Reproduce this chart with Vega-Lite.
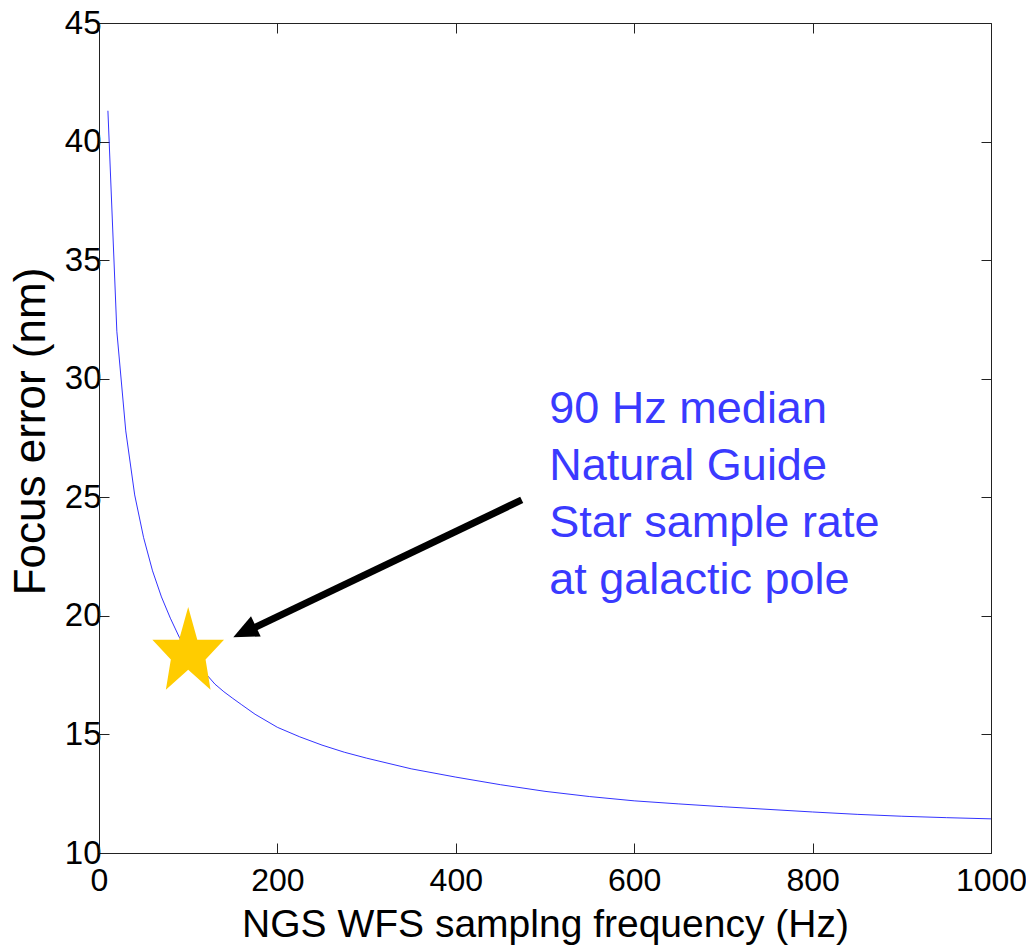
{
  "$schema": "https://vega.github.io/schema/vega-lite/v6.json",
  "width": 892,
  "height": 830,
  "autosize": {"type": "none"},
  "padding": {"left": 99, "top": 23, "right": 35, "bottom": 93},
  "background": "white",
  "config": {
    "view": {"stroke": null},
    "font": "Liberation Sans",
    "axis": {
      "grid": false,
      "domainColor": "#222222",
      "tickColor": "#222222",
      "labelColor": "#000000",
      "titleColor": "#000000",
      "labelFont": "Liberation Sans",
      "titleFont": "Liberation Sans",
      "titleFontWeight": "normal",
      "labelFontSize": 33,
      "titleFontSize": 42,
      "tickSize": -10,
      "labelFlush": false,
      "labelOverlap": false,
      "labelBound": false,
      "domainWidth": 1,
      "tickWidth": 1,
      "format": "d"
    }
  },
  "datasets": {
    "curve": [
      {"f": 10, "err": 41.3}, {"f": 20, "err": 32.0}, {"f": 30, "err": 27.8}, {"f": 40, "err": 25.1},
      {"f": 50, "err": 23.3}, {"f": 60, "err": 21.9}, {"f": 70, "err": 20.8}, {"f": 80, "err": 19.9},
      {"f": 90, "err": 19.1}, {"f": 100, "err": 18.5}, {"f": 110, "err": 18.0}, {"f": 120, "err": 17.55},
      {"f": 130, "err": 17.12}, {"f": 140, "err": 16.8}, {"f": 150, "err": 16.52}, {"f": 160, "err": 16.25},
      {"f": 175, "err": 15.85}, {"f": 200, "err": 15.3}, {"f": 225, "err": 14.9}, {"f": 250, "err": 14.55},
      {"f": 275, "err": 14.25}, {"f": 300, "err": 14.0}, {"f": 350, "err": 13.55}, {"f": 400, "err": 13.2},
      {"f": 450, "err": 12.88}, {"f": 500, "err": 12.6}, {"f": 550, "err": 12.38}, {"f": 600, "err": 12.2},
      {"f": 650, "err": 12.07}, {"f": 700, "err": 11.95}, {"f": 750, "err": 11.84}, {"f": 800, "err": 11.73},
      {"f": 850, "err": 11.63}, {"f": 900, "err": 11.55}, {"f": 950, "err": 11.49}, {"f": 1000, "err": 11.44}
    ],
    "star": [{"f": 100, "err": 18.63}],
    "arrow": [{"f": 473.9, "err": 24.89, "f2": 169.3, "err2": 19.41, "hf": 163.2, "herr": 19.33}],
    "note": [{"f": 504.8, "err": 28.15, "label": "90 Hz median\nNatural Guide\nStar sample rate\nat galactic pole"}]
  },
  "resolve": {"axis": {"x": "independent", "y": "independent"}},
  "layer": [
    {
      "data": {"name": "curve"},
      "mark": {"type": "line", "color": "#0000ff", "strokeWidth": 1, "opacity": 0.8},
      "encoding": {
        "x": {
          "field": "f", "type": "quantitative",
          "scale": {"domain": [0, 1000], "nice": false},
          "axis": {
            "orient": "bottom", "values": [0, 200, 400, 600, 800, 1000],
            "labelFontSize": 32,
            "title": "NGS WFS samplng frequency (Hz)", "titleFontSize": 39,
            "labelPadding": 22, "titleBaseline": "alphabetic", "titleY": 83
          }
        },
        "y": {
          "field": "err", "type": "quantitative",
          "scale": {"domain": [10, 45], "nice": false, "zero": false},
          "axis": {
            "orient": "left", "values": [10, 15, 20, 25, 30, 35, 40, 45],
            "title": "Focus error (nm)", "titleFontSize": 44,
            "labelPadding": 8, "titleAngle": -90, "titleBaseline": "alphabetic",
            "titleX": -55, "titleY": 408
          }
        }
      }
    },
    {
      "data": {"name": "star"},
      "mark": {"type": "point", "filled": true, "color": "#ffcc00", "opacity": 1, "strokeWidth": 0,
               "shape": "M0,-1L0.22,-0.21L0.866,-0.21L0.42,0.27L0.54,1L0,0.52L-0.54,1L-0.42,0.27L-0.866,-0.21L-0.22,-0.21Z",
               "size": 6839},
      "encoding": {
        "x": {"field": "f", "type": "quantitative",
              "axis": {"orient": "top", "labels": false, "title": null, "values": [0, 200, 400, 600, 800, 1000]}},
        "y": {"field": "err", "type": "quantitative",
              "axis": {"orient": "right", "labels": false, "title": null, "values": [10, 15, 20, 25, 30, 35, 40, 45]}}
      }
    },
    {
      "data": {"name": "arrow"},
      "mark": {"type": "rule", "color": "#000000", "strokeWidth": 7, "strokeCap": "butt"},
      "encoding": {
        "x": {"field": "f", "type": "quantitative", "axis": null},
        "y": {"field": "err", "type": "quantitative", "axis": null},
        "x2": {"field": "f2"},
        "y2": {"field": "err2"}
      }
    },
    {
      "data": {"name": "arrow"},
      "mark": {"type": "point", "filled": true, "color": "#000000", "opacity": 1, "strokeWidth": 0,
               "shape": "M1,0L-1,-0.9L-1,0.9Z", "size": 625, "angle": 154.5},
      "encoding": {
        "x": {"field": "hf", "type": "quantitative", "axis": null},
        "y": {"field": "herr", "type": "quantitative", "axis": null}
      }
    },
    {
      "data": {"name": "note"},
      "mark": {"type": "text", "align": "left", "baseline": "alphabetic", "fontSize": 45,
               "lineHeight": 57, "lineBreak": "\n", "color": "#3a3aff", "font": "Liberation Sans"},
      "encoding": {
        "x": {"field": "f", "type": "quantitative", "axis": null},
        "y": {"field": "err", "type": "quantitative", "axis": null},
        "text": {"field": "label"}
      }
    }
  ]
}
